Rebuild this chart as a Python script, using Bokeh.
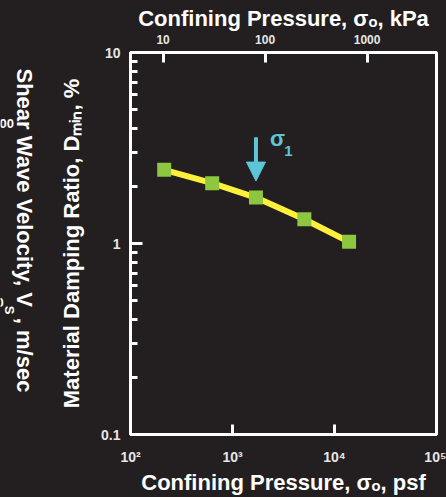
import numpy as np
from bokeh.plotting import figure
from bokeh.layouts import row
from bokeh.models import (FixedTicker, LogAxis, CustomJSTickFormatter, Label, Arrow,
                          NormalHead, Range1d)
from bokeh.embed import file_html
from bokeh.resources import INLINE

# ---- data ----
pressure_psf = [214, 632, 1699, 5064, 13890]
damping_pct = [2.43, 2.07, 1.74, 1.34, 1.02]
sigma1_index = 2
x_ticks_psf = [1e2, 1e3, 1e4, 1e5]
top_ticks_kpa = [10, 100, 1000]
y_ticks = [0.1, 1, 10]
y_minor_ticks = [0.2, 0.3, 0.4, 0.5, 0.6, 0.7, 0.8, 0.9, 2, 3, 4, 5, 6, 7, 8, 9]
PSF_PER_KPA = 20.885

top_title = "Confining Pressure, σₒ, kPa"
bottom_title = "Confining Pressure, σₒ, psf"
left_title = "Material Damping Ratio, Dₘᵢₙ, %"
shear_title_parts = ["Shear Wave Velocity, V", "S", ", m/sec"]

# ---- style ----
BG = "#231f20"
YELLOW = "#fff03c"
GREEN = "#8dc63f"
CYAN = "#5bc6da"
TXT = "#ffffff"
TICKTXT = "#e6e6e6"
FONT = "Liberation Sans"

W, H = 446, 497
STRIP = 56                      # narrow strip at the left (neighbouring panel remnants)
L, R, T, B = 128 - STRIP, 10, 52, 62

# ---------------- left strip: label of the neighbouring panel ----------------
# transparent (page background shows through); data units = page pixels
sf = figure(width=STRIP, height=H, x_range=Range1d(0, STRIP), y_range=Range1d(H - B, T),
            x_axis_location=None, y_axis_location=None, output_backend="svg",
            toolbar_location=None, background_fill_color=None, border_fill_color=None,
            min_border_left=0, min_border_right=0, min_border_top=T, min_border_bottom=B)
sf.outline_line_color = None
sf.grid.visible = False


def slab(x, y, text, size, angle=0.0, baseline="alphabetic"):
    sf.add_layout(Label(x=x, y=y, text=text, text_font=FONT, text_font_style="bold",
                        text_font_size=f"{size}px", text_color=TXT, angle=angle,
                        text_align="left", text_baseline=baseline))


slab(23.5, 68, shear_title_parts[0], 22, angle=-np.pi / 2, baseline="middle")
slab(8.5, 306, shear_title_parts[1], 13, angle=-np.pi / 2, baseline="middle")
slab(23.5, 318, shear_title_parts[2], 22, angle=-np.pi / 2, baseline="middle")
slab(-1, 123, "00", 13)
slab(-4, 303, "0", 13)

# ---------------- main chart ----------------
p = figure(width=W - STRIP, height=H, x_axis_type="log", y_axis_type="log",
           x_range=(1e2, 1e5), y_range=(0.1, 10), output_backend="svg",
           toolbar_location=None, background_fill_color=BG, border_fill_color=BG,
           min_border_left=L, min_border_right=R, min_border_top=T, min_border_bottom=B,
           outline_line_color="white", outline_line_width=3)
p.xgrid.visible = False
p.ygrid.visible = False


def style_axis(ax, tick_in, minor_in, label_size, standoff, title=None, title_standoff=0):
    ax.axis_line_color = "white"
    ax.axis_line_width = 3
    ax.major_tick_line_color = "white"
    ax.major_tick_line_width = 3
    ax.major_tick_in = tick_in
    ax.major_tick_out = 0
    ax.minor_tick_line_color = "white"
    ax.minor_tick_line_width = 3
    ax.minor_tick_in = minor_in
    ax.minor_tick_out = 0
    ax.major_label_text_font = FONT
    ax.major_label_text_font_style = "bold"
    ax.major_label_text_font_size = f"{label_size}px"
    ax.major_label_text_color = TICKTXT
    ax.major_label_standoff = standoff
    ax.axis_label = title
    ax.axis_label_text_font = FONT
    ax.axis_label_text_font_style = "bold"
    ax.axis_label_text_font_size = "22px"
    ax.axis_label_text_color = TXT
    ax.axis_label_standoff = title_standoff


# bottom axis (psf)
xa = p.xaxis[0]
xa.ticker = FixedTicker(ticks=x_ticks_psf, minor_ticks=[])
xa.formatter = CustomJSTickFormatter(code="""
const sup = {"2": "\u00b2", "3": "\u00b3", "4": "\u2074", "5": "\u2075"};
const e = Math.round(Math.log10(tick));
return "10" + sup[String(e)];
""")
style_axis(xa, 10, 0, 14, 14, bottom_title, 2)

# left axis (damping)
ya = p.yaxis[0]
ya.ticker = FixedTicker(ticks=y_ticks, minor_ticks=y_minor_ticks)
ya.formatter = CustomJSTickFormatter(code="return tick < 1 ? tick.toFixed(1) : tick.toFixed(0);")
style_axis(ya, 12, 7, 14, 10, left_title, 14)

# top axis (kPa)
ta = LogAxis(ticker=FixedTicker(ticks=[k * PSF_PER_KPA for k in top_ticks_kpa], minor_ticks=[]),
             formatter=CustomJSTickFormatter(args=dict(f=PSF_PER_KPA),
                                             code="return String(Math.round(tick / f));"))
style_axis(ta, 10, 0, 12, 9, top_title, 1)
p.add_layout(ta, "above")

# data line + markers
p.line(pressure_psf, damping_pct, line_color=YELLOW, line_width=6)
p.scatter(pressure_psf, damping_pct, marker="square", size=14, fill_color=GREEN, line_color=None)

# sigma_1 arrow and label
ax_ = pressure_psf[sigma1_index]
ay_ = damping_pct[sigma1_index]
p.add_layout(Arrow(x_start=ax_, y_start=ay_ * 2.07, x_end=ax_, y_end=ay_ * 1.22,
                   line_color=CYAN, line_width=4,
                   end=NormalHead(size=19, fill_color=CYAN, line_color=CYAN, line_width=1)))
p.add_layout(Label(x=ax_ * 1.37, y=ay_ * 1.76, text="σ", text_font=FONT, text_font_style="bold",
                   text_font_size="22px", text_color=CYAN))
p.add_layout(Label(x=ax_ * 1.89, y=ay_ * 1.65, text="1", text_font=FONT, text_font_style="bold",
                   text_font_size="15px", text_color=CYAN))

layout = row(sf, p, spacing=0)
html = file_html(layout, INLINE)
html = html.replace("<head>", f"<head><style>html, body {{ margin: 0; background: {BG}; }}</style>", 1)
open("out.html", "w").write(html)
